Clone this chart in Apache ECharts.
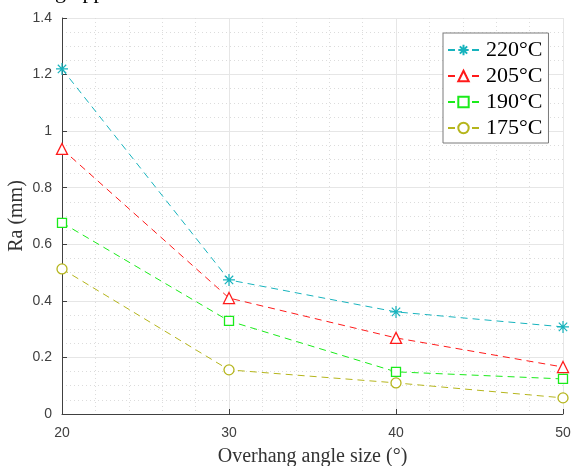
<!DOCTYPE html>
<html><head><meta charset="utf-8">
<script src="https://cdn.jsdelivr.net/npm/echarts@6/dist/echarts.min.js"></script>
<style>html,body{margin:0;padding:0;background:#fff}#c{width:571px;height:466px}</style>
</head><body><div id="c"></div>
<script>
const angles = [20, 30, 40, 50];
const seriesNames = ['220°C', '205°C', '190°C', '175°C'];
const ra220 = [1.22, 0.474, 0.361, 0.308];
const ra205 = [0.937, 0.41, 0.269, 0.166];
const ra190 = [0.676, 0.329, 0.149, 0.124];
const ra175 = [0.513, 0.156, 0.110, 0.057];
const yTicks = [0, 0.2, 0.4, 0.6, 0.8, 1, 1.2, 1.4];

const colors = ['#17b3bd', '#ff1a1a', '#1aeb1a', '#b5b51c'];
const asterisk = 'path://M0,-10L0,10M-10,0L10,0M-7,-7L7,7M-7,7L7,-7';
const symbols = [asterisk, 'triangle', 'rect', 'circle'];
const sizes = [12, 11, 9, 10];
const values = [ra220, ra205, ra190, ra175];

const chart = echarts.init(document.getElementById('c'));
const series = values.map((v, i) => ({
  name: seriesNames[i],
  type: 'line',
  data: angles.map((a, j) => [a, v[j]]),
  symbol: symbols[i],
  symbolSize: sizes[i],
  showAllSymbol: true,
  lineStyle: { color: colors[i], width: 1, type: [7, 5] },
  itemStyle: { color: i === 0 ? colors[i] : '#fff', borderColor: colors[i], borderWidth: i === 0 ? 1.2 : 1.3 },
  emphasis: { disabled: true },
  animation: false
}));

chart.setOption({
  animation: false,
  graphic: [{
    type: 'text', x: 38, y: 3,
    style: { text: 'ing upper', font: '22px "Liberation Serif"', fill: '#000', verticalAlign: 'bottom' }
  }],
  grid: { left: 62, right: 8, top: 18, bottom: 52, containLabel: false, outerBoundsMode: 'none' },
  legend: {
    orient: 'vertical', left: 443, top: 33,
    backgroundColor: '#fff', borderColor: '#7a7a7a', borderWidth: 1,
    padding: [6, 6, 4, 4], itemGap: 4, itemWidth: 31, itemHeight: 13,
    textStyle: { fontFamily: 'Liberation Serif', fontSize: 22, color: '#000', padding: [0, 0, 0, 2] },
    data: seriesNames
  },
  xAxis: {
    type: 'value', min: 20, max: 50, interval: 10,
    name: 'Overhang angle size (°)', nameLocation: 'middle', nameGap: 33, nameMoveOverlap: false,
    nameTextStyle: { fontFamily: 'Liberation Serif', fontSize: 20, color: '#333' },
    axisLine: { onZero: false, lineStyle: { color: '#404040', width: 1 } },
    axisTick: { inside: true, length: 5, lineStyle: { color: '#404040' } },
    axisLabel: { fontFamily: 'Liberation Sans', fontSize: 14, color: '#404040', margin: 12 },
    splitLine: { show: true, lineStyle: { color: '#e6e6e6', width: 1 } },
    minorTick: { show: false, splitNumber: 5 },
    minorSplitLine: { show: true, lineStyle: { color: '#dcdcdc', width: 1, type: [1, 3] } }
  },
  yAxis: {
    type: 'value', min: 0, max: 1.4, interval: 0.2,
    name: 'Ra (mm)', nameLocation: 'middle', nameGap: 35, nameRotate: 90, nameMoveOverlap: false,
    nameTextStyle: { fontFamily: 'Liberation Serif', fontSize: 20, color: '#333' },
    axisLine: { show: true, lineStyle: { color: '#404040', width: 1 } },
    axisTick: { show: true, inside: true, length: 5, lineStyle: { color: '#404040' } },
    axisLabel: { fontFamily: 'Liberation Sans', fontSize: 14, color: '#404040', margin: 10,
      formatter: v => { const t = yTicks.find(k => Math.abs(k - v) < 1e-9); return String(t !== undefined ? t : v); } },
    splitLine: { show: true, lineStyle: { color: '#e6e6e6', width: 1 } },
    minorTick: { show: false, splitNumber: 4 },
    minorSplitLine: { show: true, lineStyle: { color: '#dcdcdc', width: 1, type: [1, 3] } }
  },
  series: series
});
</script></body></html>
